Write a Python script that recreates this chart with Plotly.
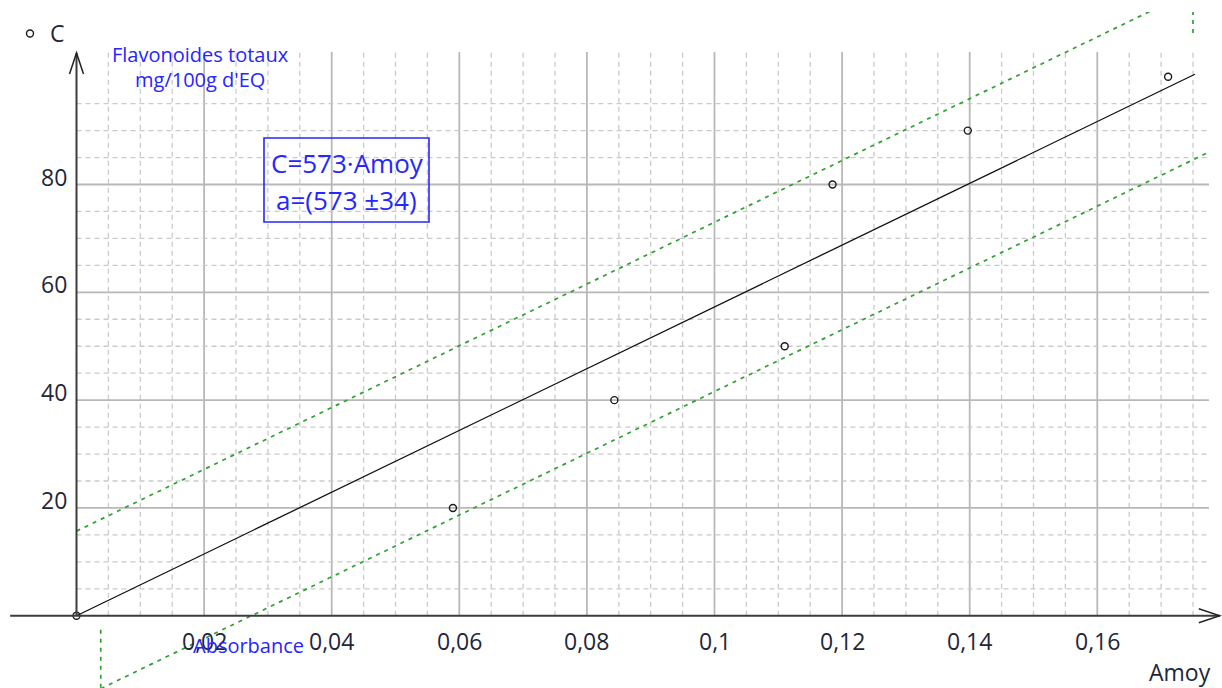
import plotly.graph_objects as go

# Measured standards: absorbance (Amoy) vs total flavonoid content C
amoy = [0.0, 0.059, 0.0843, 0.111, 0.1185, 0.1397, 0.1711]
conc = [0, 20, 40, 50, 80, 90, 100]

# Fitted model through the origin and its confidence band
slope = 573
band_half = 15.7
fit_range = [0.0, 0.1753]
upper_range = [0.0, 0.175]
lower_range = [0.0038, 0.1775]
upper_cap_low = 108.1     # lower end of the closing tick on the upper band
lower_cap_high = -2.6     # upper end of the closing tick on the lower band

# Axis ticks
x_ticks = [0.02, 0.04, 0.06, 0.08, 0.10, 0.12, 0.14, 0.16]
x_tick_text = ["0,02", "0,04", "0,06", "0,08", "0,1", "0,12", "0,14", "0,16"]
y_ticks = [20, 40, 60, 80]
y_tick_text = ["20", "40", "60", "80"]

# Grid extent and axis extent (data units)
grid_x_max = 0.1775
grid_y_max = 104.6
minor_dx, major_dx = 0.005, 0.02
minor_dy, major_dy = 5, 20
axis_x_min, axis_x_max = -0.0104, 0.1792
axis_y_max = 104.4

FONT = "Open Sans"
BLUE = "#2626ff"
DARK = "#22263a"
GREEN = "#2ea02e"

fig = go.Figure()

fig.add_trace(go.Scatter(
    x=fit_range, y=[slope * a for a in fit_range], mode="lines",
    line=dict(color="#111111", width=1.3), showlegend=False, hoverinfo="skip"))

fig.add_trace(go.Scatter(
    x=upper_range, y=[slope * a + band_half for a in upper_range], mode="lines",
    line=dict(color=GREEN, width=1.7, dash="4px,5px"), showlegend=False))
fig.add_trace(go.Scatter(
    x=lower_range, y=[slope * a - band_half for a in lower_range], mode="lines",
    line=dict(color=GREEN, width=1.7, dash="4px,5px"), showlegend=False))
fig.add_trace(go.Scatter(
    x=[upper_range[1], upper_range[1]],
    y=[upper_cap_low, slope * upper_range[1] + band_half], mode="lines",
    line=dict(color=GREEN, width=1.7, dash="4px,5px"), showlegend=False))
fig.add_trace(go.Scatter(
    x=[lower_range[0], lower_range[0]],
    y=[lower_cap_high, slope * lower_range[0] - band_half], mode="lines",
    line=dict(color=GREEN, width=1.7, dash="4px,5px"), showlegend=False))

fig.add_trace(go.Scatter(
    x=amoy, y=conc, mode="markers", name="C",
    marker=dict(symbol="circle-open", size=7, color="#1a1a1a",
                line=dict(width=1.4, color="#1a1a1a"))))

shapes = []
# Grid: dashed minor lines, solid major lines
n_vx = int(round(0.175 / minor_dx))
for i in range(1, n_vx + 1):
    xv = i * minor_dx
    major = (i % int(round(major_dx / minor_dx)) == 0)
    shapes.append(dict(type="line", xref="x", yref="y", x0=xv, x1=xv, y0=0, y1=grid_y_max,
                       line=dict(color="#b8b8b8" if major else "#cacaca",
                                 width=1.8 if major else 1.3,
                                 dash="solid" if major else "5px,4px"),
                       layer="below"))
n_hy = int(round(95 / minor_dy))
for j in range(1, n_hy + 1):
    yv = j * minor_dy
    major = (j % int(round(major_dy / minor_dy)) == 0)
    shapes.append(dict(type="line", xref="x", yref="y", x0=0, x1=grid_x_max, y0=yv, y1=yv,
                       line=dict(color="#b8b8b8" if major else "#cacaca",
                                 width=1.8 if major else 1.3,
                                 dash="solid" if major else "5px,4px"),
                       layer="below"))

# Axis lines with open arrow heads
shapes.append(dict(type="line", xref="x", yref="y", x0=axis_x_min, x1=axis_x_max, y0=0, y1=0,
                   line=dict(color="#3c3c3c", width=2)))
shapes.append(dict(type="line", xref="x", yref="y", x0=0, x1=0, y0=0, y1=axis_y_max,
                   line=dict(color="#3c3c3c", width=2)))
shapes.append(dict(type="path", xref="x", yref="y", xsizemode="pixel", ysizemode="pixel",
                   xanchor=0, yanchor=axis_y_max, path="M -7,-21 L 0,0 L 7,-21",
                   line=dict(color="#222222", width=1.5)))
shapes.append(dict(type="path", xref="x", yref="y", xsizemode="pixel", ysizemode="pixel",
                   xanchor=axis_x_max, yanchor=0, path="M -21,7 L 0,0 L -21,-7",
                   line=dict(color="#222222", width=1.5)))

# Box around the fitted equation
shapes.append(dict(type="rect", xref="paper", yref="paper",
                   x0=264 / 1222, x1=429 / 1222, y0=1 - 222 / 688, y1=1 - 138 / 688,
                   line=dict(color=BLUE, width=1.6)))

annotations = []
for tv, tt in zip(x_ticks, x_tick_text):
    annotations.append(dict(x=tv, y=0, xref="x", yref="y", text=tt, showarrow=False,
                            xanchor="center", yanchor="middle", yshift=-25,
                            font=dict(family=FONT, size=23, color=DARK)))
for tv, tt in zip(y_ticks, y_tick_text):
    annotations.append(dict(x=0, y=tv, xref="x", yref="y", text=tt, showarrow=False,
                            xanchor="right", yanchor="middle", xshift=-8, yshift=8,
                            font=dict(family=FONT, size=23, color=DARK)))

annotations += [
    dict(x=200 / 1222, y=1 - 54 / 688, xref="paper", yref="paper", text="Flavonoides totaux",
         showarrow=False, xanchor="center", yanchor="middle",
         font=dict(family=FONT, size=20, color=BLUE)),
    dict(x=200 / 1222, y=1 - 80 / 688, xref="paper", yref="paper", text="mg/100g d'EQ",
         showarrow=False, xanchor="center", yanchor="middle",
         font=dict(family=FONT, size=20, color=BLUE)),
    dict(x=248 / 1222, y=1 - 645 / 688, xref="paper", yref="paper", text="Absorbance",
         showarrow=False, xanchor="center", yanchor="middle",
         font=dict(family=FONT, size=20, color=BLUE)),
    dict(x=1180 / 1222, y=1 - 672 / 688, xref="paper", yref="paper", text="Amoy",
         showarrow=False, xanchor="center", yanchor="middle",
         font=dict(family=FONT, size=23, color=DARK)),
    dict(x=347 / 1222, y=1 - 163 / 688, xref="paper", yref="paper", text="C=573·Amoy",
         showarrow=False, xanchor="center", yanchor="middle",
         font=dict(family=FONT, size=26, color=BLUE)),
    dict(x=346 / 1222, y=1 - 200 / 688, xref="paper", yref="paper", text="a=(573 ±34)",
         showarrow=False, xanchor="center", yanchor="middle",
         font=dict(family=FONT, size=26, color=BLUE)),
]

fig.update_layout(
    width=1222, height=688,
    margin=dict(l=0, r=0, t=0, b=0),
    paper_bgcolor="white", plot_bgcolor="white",
    shapes=shapes, annotations=annotations,
    showlegend=True,
    legend=dict(x=10 / 1222, y=1 - 12 / 688, xanchor="left", yanchor="top",
                bgcolor="rgba(0,0,0,0)", borderwidth=0,
                font=dict(family=FONT, size=23, color=DARK),
                itemsizing="trace", itemwidth=30),
    xaxis=dict(range=[-76.5 / 6380, (1222 - 76.5) / 6380], visible=False, fixedrange=True),
    yaxis=dict(range=[-13.40, 112.0], domain=[0, 1 - 12 / 688], visible=False, fixedrange=True),
)

fig.write_html("out.html")
